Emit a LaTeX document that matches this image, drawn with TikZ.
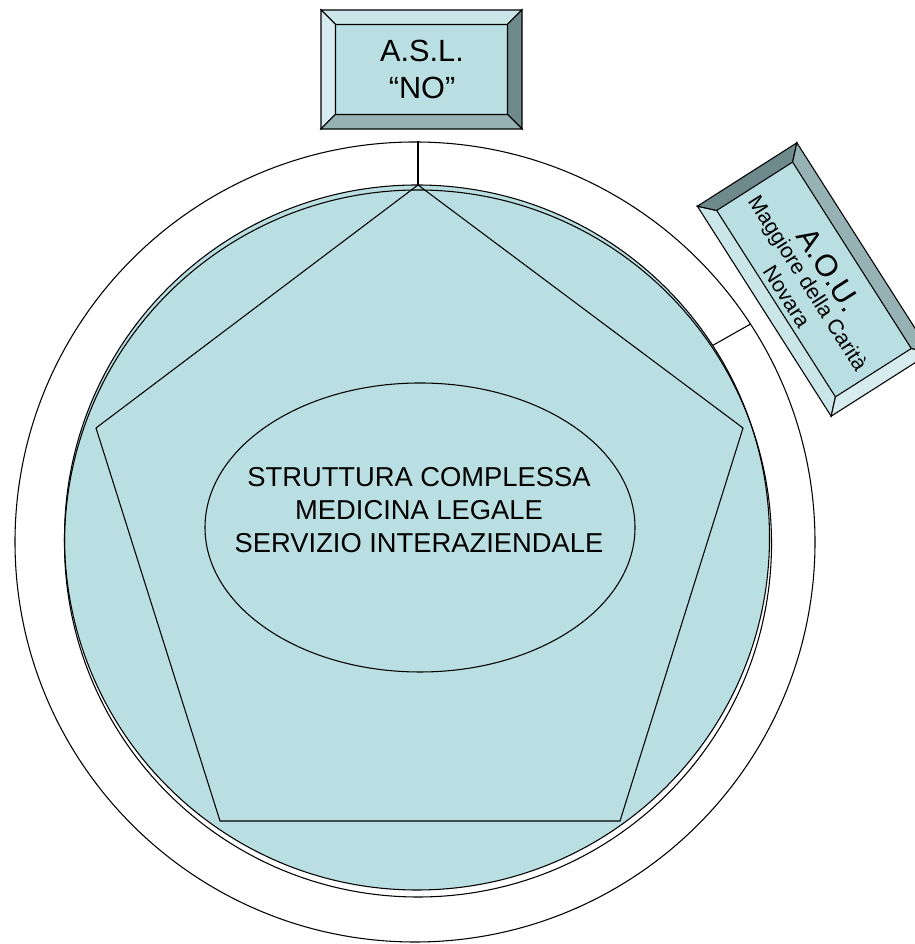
\documentclass[tikz,border=0pt]{standalone}
\usepackage{fontspec}
\setmainfont{Liberation Sans}
\usepackage{xcolor}
\usepackage{tikz}
\usetikzlibrary{positioning, shapes.geometric}

\definecolor{tealface}{RGB}{186,223,227}
\definecolor{tealup}{RGB}{203,230,233}
\definecolor{tealleft}{RGB}{214,236,239}
\definecolor{tealright}{RGB}{111,138,140}
\definecolor{tealdown}{RGB}{150,178,180}

% bevelled frame: centre, angle, half width, half height, bevel
\newcommand{\bevelframe}[5]{%
  \begin{scope}[shift={#1}, rotate=#2]
    \fill[tealface] (-#3,-#4) rectangle (#3,#4);
    \filldraw[fill=tealup] (-#3,#4) -- (#3,#4) -- ({#3-#5},{#4-#5}) -- ({-#3+#5},{#4-#5}) -- cycle;
    \filldraw[fill=tealleft] (-#3,-#4) -- (-#3,#4) -- ({-#3+#5},{#4-#5}) -- ({-#3+#5},{-#4+#5}) -- cycle;
    \filldraw[fill=tealright] (#3,-#4) -- (#3,#4) -- ({#3-#5},{#4-#5}) -- ({#3-#5},{-#4+#5}) -- cycle;
    \filldraw[fill=tealdown] (-#3,-#4) -- (#3,-#4) -- ({#3-#5},{-#4+#5}) -- ({-#3+#5},{-#4+#5}) -- cycle;
  \end{scope}}

\begin{document}
\begin{tikzpicture}[x=0.75pt, y=0.75pt, line width=0.8pt,
    label/.style={inner sep=0pt, align=center}]
  \useasboundingbox (0,0) rectangle (914,944);

  % circles
  \node[circle, draw, minimum size=600pt, inner sep=0pt] (ring) at (415,402) {};
  \node[circle, draw, fill=tealface, minimum size=528.75pt, inner sep=0pt] (disc) at (417,406.5) {};
  \node[circle, draw, minimum size=530.25pt, inner sep=0pt] (rim) at (418,400.5) {};

  % pentagon
  \coordinate (p1) at (418,759);
  \coordinate (p2) at (96,516);
  \coordinate (p3) at (220,123);
  \coordinate (p4) at (620,123);
  \coordinate (p5) at (743,516);
  \draw (p1) -- (p2) -- (p3) -- (p4) -- (p5) -- cycle;

  % centre
  \node[ellipse, draw, minimum width=322.5pt, minimum height=216.75pt, inner sep=0pt] (core) at (420,416.5) {};
  \node[label, font=\fontsize{20.5}{24.75}\selectfont] (coretext) at (419,433.5)
    {STRUTTURA COMPLESSA\\MEDICINA LEGALE\\SERVIZIO INTERAZIENDALE};

  % A.S.L.
  \bevelframe{(421.5,874.5)}{0}{100.5}{59.5}{14.5}
  \node[label, font=\fontsize{23}{27.75}\selectfont] (asl) at (422,874.5) {A.S.L.\\“NO”};
  \draw (p1) -- (p1 |- ring.north);

  % A.O.U.
  \bevelframe{(814,664.5)}{122.5}{124.5}{59}{14}
  \begin{scope}[shift={(814,664.5)}, rotate=-57.5]
    \node[label, transform shape, font=\fontsize{16}{19}\selectfont] (aou) at (0,-5.5)
      {{\fontsize{23}{27}\selectfont A.O.U.}\\[-2.5pt]Maggiore della Carità\\Novara};
  \end{scope}
  \draw (disc.33) -- (ring.33);
\end{tikzpicture}
\end{document}
